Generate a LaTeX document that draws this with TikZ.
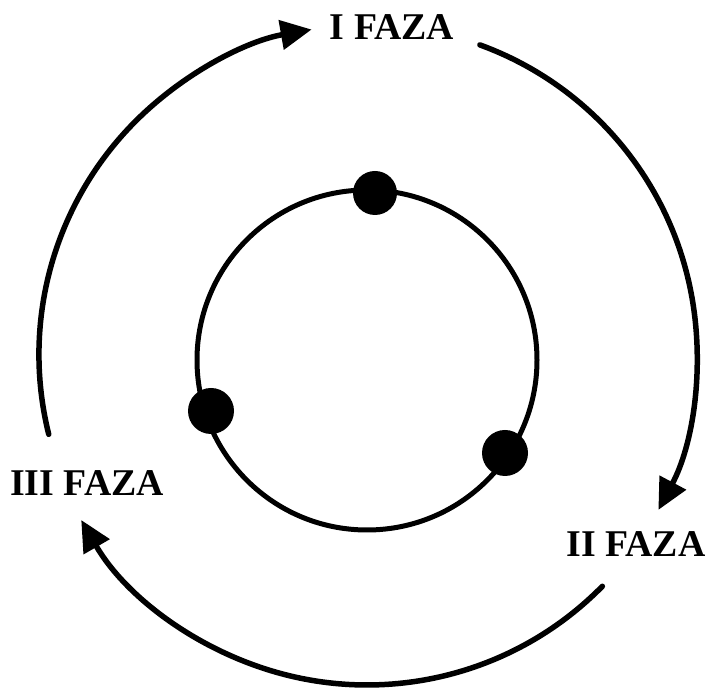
\documentclass[tikz,border=0pt]{standalone}
\usepackage{fontspec}
\setmainfont{Liberation Serif}
\usetikzlibrary{arrows.meta}
\begin{document}
\begin{tikzpicture}[
  x=0.02cm, y=0.02cm,
  line cap=round,
  line join=round,
  every node/.style={font=\bfseries\fontsize{21.5}{25}\selectfont, inner sep=1pt},
  fazaarrow/.style={line width=0.11cm, -{Triangle[length=0.62cm,width=0.58cm]}}
]
  \useasboundingbox (0,0) rectangle (707,689);

  % Центры окружностей
  \coordinate (O) at (367,334);
  \coordinate (M) at (367,329);

  % Внутренняя окружность
  \draw[line width=0.1cm] (M) circle (170);

  % Точки на окружности
  \coordinate (P1) at (375,496);
  \coordinate (P2) at (505,236);
  \coordinate (P3) at (211,278);
  \fill (P1) circle (22);
  \fill (P2) circle (23);
  \fill (P3) circle (23);

  % Подписи фаз
  \node (F1) at (392,662) {I FAZA};
  \node (F2) at (636,145) {II FAZA};
  \node (F3) at (87,206) {III FAZA};

  % Внешние стрелки
  \draw[fazaarrow] ([shift={(O)}]194:328) arc[start angle=194, end angle=100, radius=330];
  \draw[fazaarrow] ([shift={(O)}]70:330) arc[start angle=70, end angle=-28, radius=330];
  \draw[fazaarrow] ([shift={(O)}]-44.5:330) arc[start angle=-44.5, end angle=-150, radius=330];
\end{tikzpicture}
\end{document}
